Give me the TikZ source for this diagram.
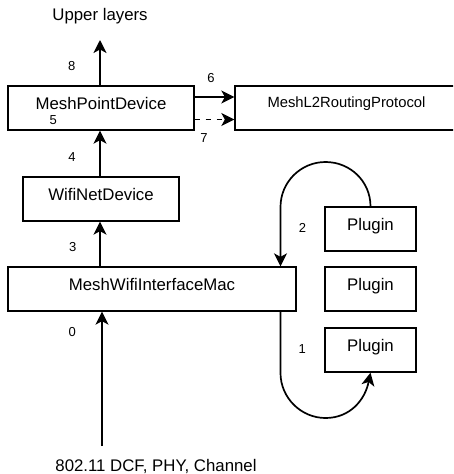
\documentclass[tikz,border=0pt]{standalone}
\usepackage{fontspec}
\setmainfont{Liberation Sans}
\usetikzlibrary{arrows.meta}

\begin{document}
\begin{tikzpicture}[x=1pt,y=-1pt,
  box/.style={draw, line width=1.3pt, inner sep=0pt, minimum height=44pt,
    text height=11pt, text depth=8.4pt, font=\fontsize{16.8}{20}\selectfont},
  num/.style={anchor=base, inner sep=0pt, font=\fontsize{13}{15}\selectfont},
  lbl/.style={anchor=base, inner sep=0pt, font=\fontsize{16.8}{20}\selectfont},
  flow/.style={line width=1.7pt, -{Stealth[length=13pt,width=13pt,inset=3.5pt]}},
]
\clip (0,0) rectangle (453,474);

% stack of devices
\node[box, minimum width=186pt] (mpd) at (101,108) {MeshPointDevice};
\node[box, minimum width=223pt, text height=10pt, text depth=11.4pt,
      font=\fontsize{14.8}{18}\selectfont] (rp) at (346.5,108) {MeshL2RoutingProtocol};
\node[box, minimum width=156pt] (wnd) at (101,199) {WifiNetDevice};
\node[box, minimum width=288pt] (mac) at (152,289) {MeshWifiInterfaceMac};

% plugins
\node[box, minimum width=91pt] (p1) at (370.5,229) {Plugin};
\node[box, minimum width=91pt] (p2) at (370.5,289) {Plugin};
\node[box, minimum width=91pt] (p3) at (370.5,350) {Plugin};

% outer texts
\node[lbl] (upper) at (100,20.5) {Upper layers};
\node[lbl] (phytxt) at (156,471.5) {802.11 DCF, PHY, Channel};

% helper points
\coordinate (up) at (100,40);
\coordinate (phy) at (102,446);
\coordinate (r6) at (0,97);
\coordinate (r7) at (0,119.5);
\coordinate (loopx) at (280.5,0);
\coordinate (top2) at (325.5,162);
\coordinate (bend2) at (280.5,207);
\coordinate (bend1) at (280.5,373);
\coordinate (bot1) at (325.5,418);

% vertical path through the stack
\draw[flow] (phy) -- (phy |- mac.south);
\draw[flow] (up |- mac.north) -- (up |- wnd.south);
\draw[flow] (up |- wnd.north) -- (up |- mpd.south);
\draw[flow] (up |- mpd.north) -- (up);

% to the routing protocol
\draw[flow] (mpd.east |- r6) -- (rp.west |- r6);
\draw[flow, dash pattern=on 5pt off 6pt] (mpd.east |- r7) -- (rp.west |- r7);

% plugin loops
\draw[flow] (mac.south -| loopx) -- (bend1)
  .. controls (280.5,397.85) and (301.15,418) .. (bot1)
  .. controls (350,418) and (365,400) .. (p3.south);
\draw[flow] (p1.north) .. controls +(0,-24.85) and +(24.85,0) .. (top2)
  .. controls +(-24.85,0) and +(0,-24.85) .. (bend2) -- (mac.north -| loopx);

% step numbers
\node[num] (n0) at (72.3,336) {0};
\node[num] (n1) at (302.3,353.3) {1};
\node[num] (n2) at (302.5,232.7) {2};
\node[num] (n3) at (72.7,251) {3};
\node[num] (n4) at (72,161) {4};
\node[num] (n5) at (53.3,124) {5};
\node[num] (n6) at (211,82.5) {6};
\node[num] (n7) at (204,142) {7};
\node[num] (n8) at (71.7,70.3) {8};
\end{tikzpicture}
\end{document}
